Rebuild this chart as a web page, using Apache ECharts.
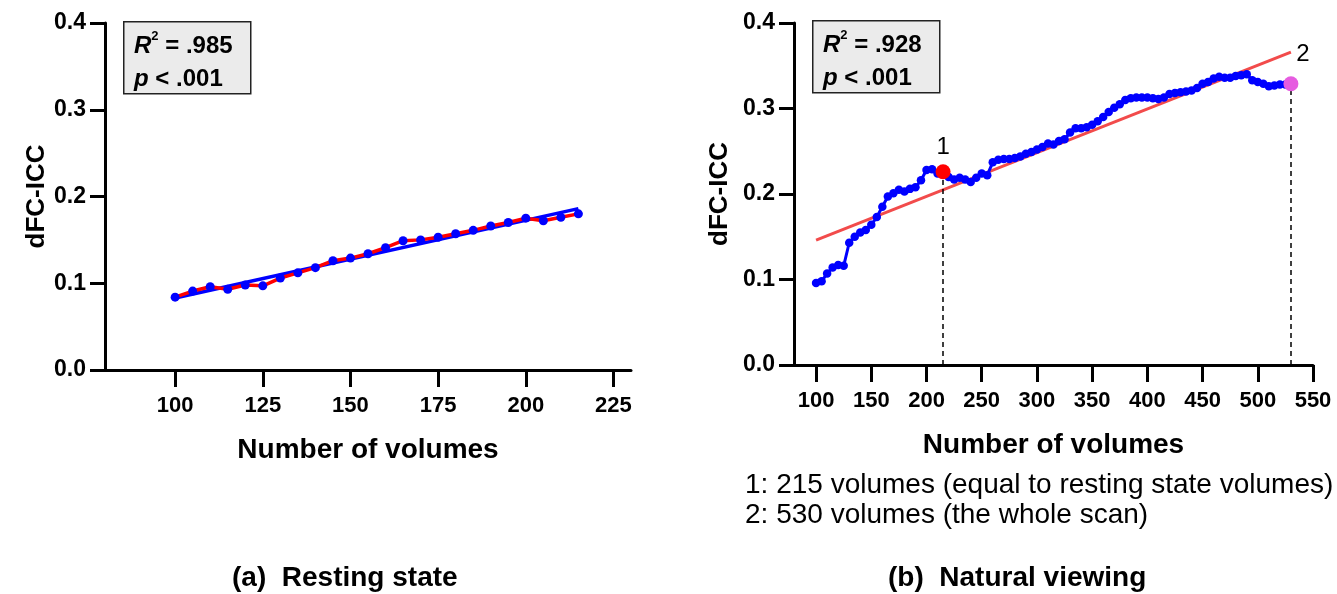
<!DOCTYPE html>
<html>
<head>
<meta charset="utf-8">
<script src="https://cdn.jsdelivr.net/npm/echarts@6/dist/echarts.min.js"></script>
<style>
html, body { margin: 0; padding: 0; background: #fff; }
#chart { width: 1337px; height: 594px; }
</style>
</head>
<body>
<div id="chart"></div>
<script>
// (a) resting state
var restVolumes = [100, 105, 110, 115, 120, 125, 130, 135, 140, 145, 150, 155,
    160, 165, 170, 175, 180, 185, 190, 195, 200, 205, 210, 215]
var restIcc = [0.084, 0.091, 0.096, 0.093, 0.098, 0.097, 0.106, 0.112, 0.118, 0.126, 0.129, 0.134,
    0.141, 0.149, 0.150, 0.153, 0.157, 0.161, 0.166, 0.170, 0.175, 0.172, 0.176, 0.180]
var restFitX = [100, 215]
var restFitY = [0.083, 0.186]
var restXTicks = [100, 125, 150, 175, 200, 225]

// (b) natural viewing
var natVolumes = [100, 105, 110, 115, 120, 125, 130, 135, 140, 145, 150, 155, 160, 165, 170,
    175, 180, 185, 190, 195, 200, 205, 210, 215, 220, 225, 230, 235, 240, 245, 250, 255,
    260, 265, 270, 275, 280, 285, 290, 295, 300, 305, 310, 315, 320, 325, 330, 335, 340,
    345, 350, 355, 360, 365, 370, 375, 380, 385, 390, 395, 400, 405, 410, 415, 420, 425,
    430, 435, 440, 445, 450, 455, 460, 465, 470, 475, 480, 485, 490, 495, 500, 505, 510,
    515, 520, 525, 530]
var natIcc = [0.096, 0.098, 0.107, 0.114, 0.117, 0.116, 0.143, 0.150, 0.155, 0.158, 0.164, 0.173,
    0.185, 0.197, 0.201, 0.205, 0.203, 0.206, 0.208, 0.216, 0.228, 0.229, 0.224, 0.226,
    0.220, 0.217, 0.219, 0.217, 0.214, 0.219, 0.224, 0.222, 0.237, 0.240, 0.241, 0.241,
    0.242, 0.244, 0.247, 0.249, 0.252, 0.255, 0.259, 0.258, 0.262, 0.264, 0.272, 0.277,
    0.277, 0.278, 0.281, 0.285, 0.290, 0.296, 0.301, 0.305, 0.310, 0.312, 0.313, 0.313,
    0.313, 0.312, 0.311, 0.313, 0.317, 0.318, 0.319, 0.320, 0.321, 0.324, 0.329, 0.331,
    0.335, 0.337, 0.336, 0.336, 0.338, 0.339, 0.340, 0.333, 0.331, 0.329, 0.326, 0.327,
    0.328, 0.328, 0.329]
var natFitX = [100, 530]
var natFitY = [0.146, 0.366]
var natXTicks = [100, 150, 200, 250, 300, 350, 400, 450, 500, 550]
var natMarks = [215, 530]

var yTicks = [0, 0.1, 0.2, 0.3, 0.4]

var font = "'Liberation Sans', Arial, sans-serif"

function pairs(xs, ys) {
    return xs.map((x, i) => [x, ys[i]])
}
function valueAt(x) {
    return natIcc[natVolumes.indexOf(x)]
}

function xAxisFor(idx, min, max, ticks) {
    return {
        type: "value",
        gridIndex: idx,
        min: min,
        max: max,
        name: "Number of volumes",
        nameLocation: "middle",
        nameGap: 66,
        nameTextStyle: { color: "#000", fontSize: 28, fontWeight: "bold", fontFamily: font },
        axisLine: { lineStyle: { color: "#000", width: 3 } },
        axisTick: { customValues: ticks, length: 17, lineStyle: { color: "#000", width: 3 } },
        axisLabel: { customValues: ticks, margin: 25, color: "#000", fontSize: 22, fontWeight: "bold", fontFamily: font },
        splitLine: { show: false },
    }
}

function yAxisFor(idx, gap) {
    return {
        type: "value",
        gridIndex: idx,
        min: yTicks[0],
        max: yTicks[yTicks.length - 1],
        interval: 0.1,
        name: "dFC-ICC",
        nameLocation: "middle",
        nameGap: gap,
        nameTextStyle: { color: "#000", fontSize: 26, fontWeight: "bold", fontFamily: font },
        axisLine: { show: true, lineStyle: { color: "#000", width: 3 } },
        axisTick: { show: true, length: 15, lineStyle: { color: "#000", width: 3 } },
        axisLabel: {
            margin: 19, color: "#000", fontSize: 23, fontWeight: "bold", fontFamily: font,
            formatter: (v) => v.toFixed(1),
        },
        splitLine: { show: false },
    }
}

function statBox(left, top, r2) {
    return [{
        type: "rect",
        left: left, top: top,
        shape: { width: 127, height: 72 },
        style: { fill: "#ebebeb", stroke: "#222", lineWidth: 1.5 },
        z: 10,
    }, {
        type: "text",
        left: left + 11, top: top + 9,
        style: {
            text: "{i|R}{s|2}{b| = " + r2 + "}\n{i|p}{b| < .001}",
            fill: "#000",
            rich: {
                i: { fontSize: 24, fontWeight: "bold", fontStyle: "italic", fontFamily: font, lineHeight: 33 },
                s: { fontSize: 13, fontWeight: "bold", fontFamily: font, verticalAlign: "top", lineHeight: 33, padding: [0, 0, 10, 0] },
                b: { fontSize: 24, fontWeight: "bold", fontFamily: font, lineHeight: 33 },
            },
        },
        z: 11,
    }]
}

var chart = echarts.init(document.querySelector("#chart"))

var option = {
    backgroundColor: "#fff",
    animation: false,
    grid: [
        { left: 105, top: 23, width: 526, height: 347 },
        { left: 794, top: 23, width: 519, height: 342 },
    ],
    xAxis: [
        xAxisFor(0, 80, 230, restXTicks),
        xAxisFor(1, 80, 550, natXTicks),
    ],
    yAxis: [
        yAxisFor(0, 54),
        yAxisFor(1, 61),
    ],
    series: [{
        name: "rest fit",
        type: "line",
        xAxisIndex: 0, yAxisIndex: 0,
        data: pairs(restFitX, restFitY),
        showSymbol: false,
        lineStyle: { color: "#0000ff", width: 3.5 },
        z: 3,
    }, {
        name: "rest",
        type: "line",
        xAxisIndex: 0, yAxisIndex: 0,
        data: pairs(restVolumes, restIcc),
        symbol: "circle",
        symbolSize: 9,
        lineStyle: { color: "#ff0000", width: 3.5 },
        itemStyle: { color: "#0000ff" },
        z: 4,
    }, {
        name: "natural fit",
        type: "line",
        xAxisIndex: 1, yAxisIndex: 1,
        data: pairs(natFitX, natFitY),
        showSymbol: false,
        lineStyle: { color: "#f24b4b", width: 3 },
        z: 3,
    }, {
        name: "natural",
        type: "line",
        xAxisIndex: 1, yAxisIndex: 1,
        data: pairs(natVolumes, natIcc),
        symbol: "circle",
        symbolSize: 8.5,
        lineStyle: { color: "#0000ff", width: 3 },
        itemStyle: { color: "#0000ff" },
        markLine: {
            silent: true,
            symbol: "none",
            label: { show: false },
            lineStyle: { color: "#000", type: [5, 4], width: 1.5 },
            data: natMarks.map((x) => [{ coord: [x, 0] }, { coord: [x, valueAt(x)] }]),
        },
        z: 4,
    }, {
        name: "marks",
        type: "scatter",
        xAxisIndex: 1, yAxisIndex: 1,
        symbolSize: 15,
        data: [{
            value: [natMarks[0], valueAt(natMarks[0])],
            itemStyle: { color: "#ff0000", opacity: 1 },
            label: { formatter: "1", position: "top", distance: 5 },
        }, {
            value: [natMarks[1], valueAt(natMarks[1])],
            itemStyle: { color: "#e65ce0", opacity: 1 },
            label: { formatter: "2", position: "top", distance: 6, offset: [12, -4] },
        }],
        label: { show: true, color: "#000", fontSize: 24, fontFamily: font, opacity: 1 },
        z: 6,
    }],
    graphic: [].concat(
        statBox(123, 21, ".985"),
        statBox(812, 20, ".928"),
        [{
            type: "text",
            left: 745, top: 470,
            style: {
                text: "1: 215 volumes (equal to resting state volumes)\n2: 530 volumes (the whole scan)",
                fill: "#000", fontSize: 28, fontFamily: font, lineHeight: 30,
            },
        }, {
            type: "text",
            left: 232, top: 564,
            style: { text: "(a)  Resting state", fill: "#000", fontSize: 28, fontWeight: "bold", fontFamily: font },
        }, {
            type: "text",
            left: 888, top: 564,
            style: { text: "(b)  Natural viewing", fill: "#000", fontSize: 28, fontWeight: "bold", fontFamily: font },
        }]
    ),
}

chart.setOption(option)
</script>
</body>
</html>
